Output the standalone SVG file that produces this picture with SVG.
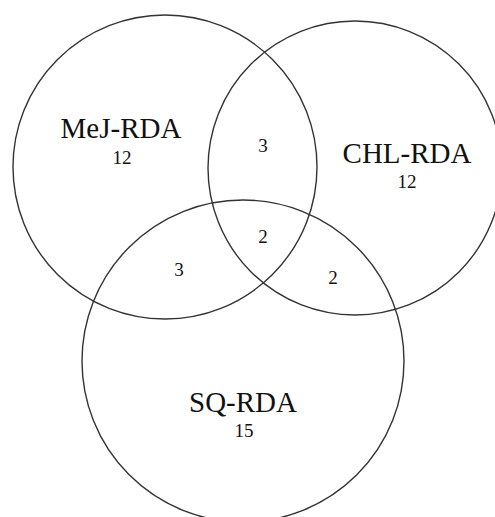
<svg xmlns="http://www.w3.org/2000/svg" width="495" height="517" viewBox="0 0 495 517">
<style>
.c{fill:none;stroke:#333;stroke-width:1.4}
.l{font-family:"Liberation Serif",serif;font-size:29px;fill:#111;text-anchor:middle}
.n{font-family:"Liberation Serif",serif;font-size:19px;fill:#111;text-anchor:middle}
</style>
<rect width="495" height="517" fill="#fff"/>
<g id="set-mej">
<circle class="c" cx="165" cy="167" r="152"/>
<text class="l" x="121" y="138">MeJ-RDA</text>
<text class="n" x="122" y="164">12</text>
</g>
<g id="set-chl">
<circle class="c" cx="355" cy="168" r="147"/>
<text class="l" x="407" y="163">CHL-RDA</text>
<text class="n" x="407" y="188">12</text>
</g>
<g id="set-sq">
<circle class="c" cx="243" cy="361" r="161"/>
<text class="l" x="243" y="412">SQ-RDA</text>
<text class="n" x="244" y="437">15</text>
</g>
<g id="intersections">
<text class="n" x="263" y="152">3</text>
<text class="n" x="263" y="243">2</text>
<text class="n" x="179" y="276">3</text>
<text class="n" x="333" y="284">2</text>
</g>
<g id="connectors"></g>
</svg>
